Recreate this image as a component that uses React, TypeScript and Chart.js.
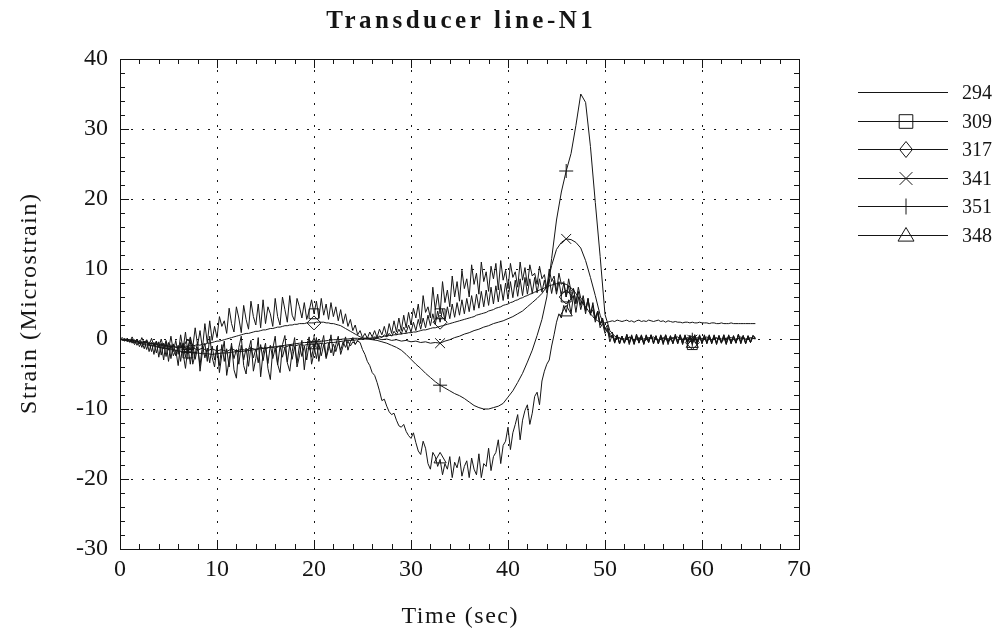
import React, { useEffect, useRef } from 'react';
import { Chart, registerables } from 'chart.js';

Chart.register(...registerables);

// ---- data ----
// noisy channels are sampled every 0.25 s, smooth ones every 0.5 s (0 – 65.5 s)
const TITLE = 'Transducer line-N1';
const X_TITLE = 'Time (sec)';
const Y_TITLE = 'Strain (Microstrain)';
const SERIES_LABELS = ['294', '309', '317', '341', '351', '348'];
const SERIES_STEPS = [0.25, 0.25, 0.25, 0.5, 0.5, 0.25];
const MARKER_TIMES = [7, 20, 33, 46, 59];
const X_TICKS = [0, 10, 20, 30, 40, 50, 60, 70];
const Y_TICKS = [-30, -20, -10, 0, 10, 20, 30, 40];

const S294 = [
  0, -0.1, -0.3, 0.1, -0.5, -0.2, -0.8, 0, -1.1, -0.4, -1.4, -0.2, -1.8, -0.5, -2.2, -0.3, -2.6, -0.6, -3.0, -0.4,
  -3.2, -0.8, -2.4, -1.6, -3.8, -0.5, -2.0, -4.2, -1.2, 0.2, -3.6, -2.2, -0.4, -4.6, -1.8, -0.6, -3.2, 0.4, -2.6, -4.0,
  -1.0, -4.8, -2.2, -0.3, -5.2, -3.0, -0.6, -4.4, -5.6, -1.2, 0.4, -3.8, -5.0, -1.6, -0.2, -4.6, -2.8, 0.2, -5.4, -2.0,
  -0.6, -4.2, -5.8, -1.4, 0.4, -3.6, -4.8, -0.8, 0.5, -3.4, -4.6, -1.8, 0.2, -4.0, -2.4, -0.2, -4.4, -1.2, 0.3, -3.6,
  -2.0, 0.2, -3.2, -1.0, 0.5, -2.8, -1.4, 0.6, -2.4, -0.8, 0.4, -2.2, -1.0, 0.3, -1.6, -0.4, 0.2, -0.8, -0.2, 0.1,
  0, 0.1, 0.2, 0.1, 0.2, 0.3, 0.2, 0.3, 0.3, 0.4, 0.4, 0.5, 0.5, 0.6, 0.6, 0.7, 0.7, 0.8, 0.8, 0.9,
  0.9, 1.0, 1.0, 1.1, 1.2, 1.3, 1.3, 1.4, 1.5, 1.6, 1.6, 1.7, 1.8, 1.9, 2.0, 2.1, 2.2, 2.3, 2.4, 2.5,
  2.6, 2.7, 2.8, 2.9, 3.0, 3.1, 3.2, 3.4, 3.5, 3.6, 3.7, 3.8, 4.0, 4.1, 4.2, 4.4, 4.5, 4.6, 4.8, 4.9,
  5.0, 5.2, 5.3, 5.5, 5.6, 5.8, 5.9, 6.1, 6.2, 6.4, 6.5, 6.7, 6.8, 7.0, 7.1, 7.3, 7.4, 7.6, 7.7, 7.8,
  7.9, 8.0, 8.0, 7.9, 7.8, 7.6, 7.3, 7.0, 6.5, 6.0, 5.5, 5.0, 4.6, 4.1, 3.6, 3.2, 2.8, 2.6, 2.4, 2.3,
  2.3, 2.4, 2.5, 2.6, 2.5, 2.7, 2.6, 2.5, 2.6, 2.7, 2.5, 2.6, 2.4, 2.6, 2.7, 2.5, 2.6, 2.5, 2.7, 2.6,
  2.5, 2.6, 2.7, 2.5, 2.6, 2.4, 2.6, 2.5, 2.4, 2.5, 2.4, 2.4, 2.3, 2.4, 2.4, 2.3, 2.4, 2.3, 2.3, 2.4,
  2.3, 2.3, 2.3, 2.2, 2.3, 2.3, 2.2, 2.2, 2.3, 2.2, 2.2, 2.2, 2.3, 2.2, 2.2, 2.2, 2.2, 2.2, 2.2, 2.2,
  2.2, 2.2, 2.2,
];

const S309 = [
  0, 0.2, -0.3, 0.1, -0.4, 0.3, -0.5, 0, -0.7, 0.2, -0.6, -0.1, -0.9, 0.1, -1.0, -0.3, -1.2, 0.0, -1.4, -0.2,
  -1.6, 0.4, -1.8, -0.2, -2.2, 0.6, -1.5, 1.0, -2.0, 0.3, -1.2, 1.6, -0.9, 1.2, -1.4, 2.2, -0.6, 2.6, -0.2, 1.8,
  0.2, 3.2, 1.8, 2.6, 0.8, 4.4, 2.2, 1.0, 4.6, 3.0, 0.9, 4.8, 2.8, 1.4, 5.4, 3.2, 2.0, 5.0, 1.6, 5.6,
  2.2, 4.6, 3.6, 1.8, 5.8, 3.2, 2.0, 6.0, 4.2, 2.4, 6.2, 3.4, 2.6, 5.8, 4.6, 3.0, 5.2, 2.8, 4.0, 5.6,
  3.6, 5.4, 3.0, 5.8, 3.4, 5.0, 2.8, 5.2, 3.2, 4.6, 2.6, 4.2, 2.2, 3.6, 1.8, 2.8, 1.2, 2.0, 0.6, 1.2,
  0.2, 0.8, 0.1, 1.0, 0.3, 1.2, 0.2, 1.4, 0.6, 1.8, 0.4, 2.2, 0.8, 2.6, 1.0, 3.0, 1.2, 3.4, 1.6, 3.8,
  2.0, 4.4, 3.0, 5.0, 2.2, 6.2, 3.8, 4.6, 3.0, 7.4, 4.2, 6.4, 3.6, 8.2, 5.2, 7.0, 4.6, 9.0, 6.0, 8.2,
  5.4, 9.8, 7.2, 8.6, 6.0, 10.6, 7.8, 9.4, 6.4, 11.0, 8.2, 9.6, 6.8, 10.4, 8.6, 10.8, 7.0, 11.2, 8.4, 9.8,
  7.2, 10.8, 8.8, 9.6, 7.4, 11.0, 8.4, 10.2, 7.6, 10.6, 9.0, 9.4, 7.8, 10.4, 8.6, 9.2, 7.2, 10.0, 8.2, 9.0,
  6.8, 9.4, 7.8, 8.2, 6.0, 8.6, 6.8, 7.2, 5.0, 7.4, 5.8, 5.6, 4.0, 5.8, 3.6, 4.2, 2.4, 3.8, 1.6, 2.2,
  0.8, 1.4, -0.4, 0.6, -0.6, 0.5, -0.7, 0.4, -0.5, 0.7, -0.6, 0.3, -0.8, 0.6, -0.5, 0.5, -0.7, 0.6, -0.4, 0.5,
  -0.6, 0.4, -0.7, 0.6, -0.5, 0.5, -0.8, 0.3, -0.6, 0.7, -0.5, 0.4, -0.7, 0.6, -0.6, 0.5, -0.8, 0.4, -0.5, 0.6,
  -0.7, 0.5, -0.6, 0.4, -0.5, 0.6, -0.7, 0.5, -0.6, 0.3, -0.8, 0.6, -0.5, 0.4, -0.6, 0.7, -0.5, 0.5, -0.7, 0.4,
  -0.5, 0.5, 0.2,
];

const S317 = [
  0, -0.1, -0.2, -0.1, -0.3, -0.2, -0.4, -0.3, -0.5, -0.4, -0.6, -0.5, -0.7, -0.6, -0.8, -0.7, -0.9, -0.8, -1.0, -0.9,
  -1.0, -1.1, -1.0, -1.2, -1.1, -1.0, -1.2, -1.0, -1.1, -0.9, -1.0, -0.9, -0.8, -0.9, -0.7, -0.8, -0.6, -0.6, -0.5, -0.4,
  -0.3, -0.3, -0.2, -0.1, 0, 0.1, 0.2, 0.3, 0.4, 0.5, 0.6, 0.7, 0.8, 0.8, 0.9, 1.0, 1.1, 1.1, 1.2, 1.3,
  1.3, 1.4, 1.5, 1.5, 1.6, 1.7, 1.7, 1.8, 1.9, 1.9, 2.0, 2.0, 2.1, 2.1, 2.2, 2.2, 2.2, 2.3, 2.3, 2.3,
  2.3, 2.4, 2.4, 2.4, 2.4, 2.3, 2.3, 2.2, 2.2, 2.1, 2.0, 1.9, 1.7, 1.5, 1.3, 1.1, 0.9, 0.7, 0.5, 0.3,
  0.2, 0.1, 0, 0.1, 0, 0.2, 0.1, 0.4, 0.2, 0.6, 0.3, 0.8, 0.4, 1.1, 0.6, 1.4, 0.7, 1.7, 0.9, 2.0,
  1.0, 2.4, 1.2, 2.8, 1.4, 3.0, 1.6, 3.4, 1.9, 3.6, 2.1, 4.0, 2.4, 4.3, 2.6, 4.6, 2.9, 5.0, 3.1, 5.2,
  3.4, 5.6, 3.6, 5.8, 3.9, 6.2, 4.1, 6.4, 4.4, 6.8, 4.6, 7.0, 4.8, 7.4, 5.0, 7.6, 5.3, 7.8, 5.5, 8.0,
  5.7, 8.2, 5.9, 8.4, 6.1, 8.6, 6.2, 8.8, 6.4, 8.6, 6.5, 8.8, 6.6, 8.6, 6.7, 8.4, 6.6, 8.6, 6.5, 8.4,
  6.4, 8.2, 6.2, 8.0, 6.0, 7.6, 5.6, 7.2, 5.2, 6.8, 4.8, 6.2, 4.2, 5.6, 3.6, 4.8, 3.0, 4.0, 2.2, 3.0,
  1.4, 2.0, 0.6, 1.0, -0.3, 0.6, -0.5, 0.4, -0.6, 0.5, -0.4, 0.6, -0.7, 0.4, -0.5, 0.6, -0.6, 0.3, -0.5, 0.6,
  -0.5, 0.5, -0.7, 0.4, -0.6, 0.6, -0.4, 0.5, -0.6, 0.4, -0.7, 0.6, -0.5, 0.5, -0.6, 0.4, -0.5, 0.6, -0.7, 0.5,
  -0.6, 0.4, -0.5, 0.6, -0.7, 0.5, -0.5, 0.4, -0.6, 0.6, -0.5, 0.5, -0.7, 0.4, -0.6, 0.6, -0.5, 0.5, -0.6, 0.4,
  -0.5, 0.5, 0.1,
];

const S341 = [
  0, -0.1, -0.3, -0.2, -0.5, -0.4, -0.7, -0.6, -0.9, -0.8,
  -1.1, -1.0, -1.3, -1.1, -1.5, -1.2, -1.6, -1.3, -1.7, -1.4,
  -1.7, -1.5, -1.8, -1.4, -1.7, -1.5, -1.6, -1.3, -1.5, -1.2,
  -1.4, -1.1, -1.3, -1.0, -1.2, -0.9, -1.0, -0.8, -0.9, -0.7,
  -0.8, -0.6, -0.7, -0.5, -0.5, -0.4, -0.3, -0.2, -0.2, -0.1,
  0, 0.1, 0, 0.1, -0.1, 0, -0.2, -0.1, -0.3, -0.2,
  -0.4, -0.3, -0.5, -0.4, -0.6, -0.5, -0.6, -0.3, -0.1, 0.2,
  0.4, 0.7, 0.9, 1.2, 1.4, 1.7, 1.9, 2.2, 2.4, 2.6,
  2.9, 3.2, 3.6, 4.0, 4.6, 5.2, 5.8, 6.5, 7.5, 10.5,
  12.8, 13.8, 14.3, 14.2, 13.8, 13.0, 11.2, 8.8, 6.2, 3.4,
  1.6, 0.5, 0, 0.2, -0.3, 0.3, -0.2, 0.2, -0.3, 0.1,
  0.3, -0.2, 0.2, -0.3, 0.1, 0.3, -0.2, 0.2, -0.1, 0.2,
  -0.2, 0.3, -0.1, 0.2, -0.3, 0.1, 0.2, -0.2, 0.3, -0.1,
  0.2, 0,
];

const S351 = [
  0, -0.2, -0.3, -0.5, -0.6, -0.8, -0.9, -1.0, -1.2, -1.3,
  -1.4, -1.5, -1.7, -1.8, -1.9, -2.0, -2.0, -2.1, -2.1, -2.2,
  -2.1, -2.0, -2.0, -1.9, -1.8, -1.8, -1.7, -1.6, -1.5, -1.4,
  -1.3, -1.2, -1.1, -1.0, -0.9, -0.8, -0.7, -0.6, -0.5, -0.5,
  -0.4, -0.3, -0.3, -0.2, -0.1, -0.1, 0, 0, 0.1, 0.1,
  0, 0, -0.1, -0.2, -0.4, -0.6, -0.9, -1.2, -1.6, -2.2,
  -2.9, -3.6, -4.2, -4.9, -5.5, -6.1, -6.6, -7.0, -7.4, -7.8,
  -8.1, -8.5, -9.0, -9.5, -9.8, -10.0, -10.0, -9.8, -9.6, -9.2,
  -8.3, -7.4, -6.2, -4.9, -3.3, -1.6, 0.5, 2.8, 6.0, 11.5,
  17.0, 21.0, 24.0, 26.5, 30.5, 35.0, 33.8, 27.5, 19.5, 11.8,
  3.5, 1.2, 0.4, 0.1, 0, 0.2, -0.1, 0.1, 0, 0.2,
  0, -0.1, 0.1, 0, 0.2, -0.1, 0, 0.1, -0.1, 0,
  0.1, 0, -0.1, 0.1, 0, 0.1, -0.1, 0, 0.1, 0,
  0, 0.1,
];

const S348 = [
  0, -0.2, 0.1, -0.4, 0, -0.6, -0.1, -0.9, -0.2, -1.2, -0.3, -1.5, -0.4, -1.8, -0.5, -2.0, -0.4, -2.3, -0.6, -2.5,
  -0.5, -2.8, -0.7, -2.4, -0.9, -3.2, -0.6, -2.6, -1.0, -3.6, -0.8, -2.9, -1.2, -3.8, -0.9, -2.7, -1.3, -3.4, -1.0, -3.0,
  -1.2, -3.8, -0.8, -3.2, -1.4, -4.0, -1.0, -2.8, -1.5, -3.6, -0.9, -3.0, -1.3, -3.9, -1.1, -2.7, -1.4, -3.4, -0.8, -3.1,
  -1.2, -3.5, -0.9, -2.8, -1.3, -3.7, -1.0, -2.6, -1.2, -3.3, -0.8, -2.9, -1.1, -3.4, -0.9, -2.5, -1.0, -3.0, -0.7, -2.6,
  -0.9, -2.8, -0.7, -2.4, -0.8, -2.6, -0.6, -2.0, -0.7, -1.8, -0.5, -1.6, -0.4, -1.2, -0.3, -1.0, -0.4, -0.7, -0.3, -0.5,
  -1.5, -2.2, -3.2, -3.8, -4.8, -5.2, -6.2, -7.4, -8.8, -8.6, -9.6, -10.4, -10.8, -10.6, -11.6, -12.4, -12.6, -12.2, -13.2, -13.8,
  -14.2, -13.4, -14.8, -16.0, -16.5, -14.6, -15.6, -17.8, -18.6, -16.2, -16.8, -18.2, -17.2, -19.4, -17.8, -18.6, -16.8, -19.8, -17.6, -18.4,
  -16.8, -19.6, -18.2, -17.4, -19.8, -17.0, -18.6, -19.4, -16.4, -19.8, -17.8, -18.2, -15.6, -18.8, -16.8, -16.2, -14.4, -17.8, -15.2, -14.6,
  -12.6, -15.8, -13.4, -12.2, -10.8, -14.4, -11.6, -10.2, -9.4, -12.2, -10.6, -8.2, -7.6, -9.4, -6.0, -4.6, -3.6, -3.0, -1.0, 0.6,
  2.4, 3.6, 3.0, 4.8, 3.8, 5.6, 3.6, 6.2, 3.8, 6.0, 4.2, 5.6, 3.6, 5.8, 3.4, 5.2, 2.8, 4.0, 2.0, 2.8,
  1.2, 1.6, 0.2, 0.6, -0.5, 0.5, -0.7, 0.4, -0.6, 0.6, -0.8, 0.4, -0.5, 0.7, -0.6, 0.4, -0.8, 0.5, -0.5, 0.6,
  -0.7, 0.4, -0.6, 0.5, -0.8, 0.6, -0.5, 0.4, -0.7, 0.5, -0.6, 0.6, -0.8, 0.4, -0.5, 0.5, -0.7, 0.6, -0.6, 0.4,
  -0.5, 0.6, -0.7, 0.5, -0.6, 0.4, -0.8, 0.5, -0.5, 0.6, -0.7, 0.4, -0.6, 0.5, -0.5, 0.6, -0.7, 0.4, -0.6, 0.5,
  -0.5, 0.4, 0,
];

const SERIES_VALUES = [S294, S309, S317, S341, S351, S348];
const SERIES_MARKERS: (string | null)[] = [null, 'rect', 'rectRot', 'crossRot', 'cross', 'triangle'];

// ---- styling / layout constants ----
const INK = '#151515';
const FONT_FAMILY = '"Liberation Serif", "Times New Roman", serif';
const CHART_LEFT = 120;
const CHART_RIGHT = 799;
const CHART_TOP = 59;
const CHART_BOTTOM = 549;
const W = 1006;
const H = 639;
const MINOR_STEP = 2;
const MARKER_R = 7;

function drawMarker(ctx: CanvasRenderingContext2D, style: string | null, x: number, y: number, r: number) {
  if (!style) return;
  ctx.beginPath();
  if (style === 'rect') {
    const s = r * 0.85;
    ctx.rect(x - s, y - s, 2 * s, 2 * s);
  } else if (style === 'rectRot') {
    ctx.moveTo(x, y - r);
    ctx.lineTo(x + r * 0.8, y);
    ctx.lineTo(x, y + r);
    ctx.lineTo(x - r * 0.8, y);
    ctx.closePath();
  } else if (style === 'crossRot') {
    const s = r * 0.8;
    ctx.moveTo(x - s, y - s);
    ctx.lineTo(x + s, y + s);
    ctx.moveTo(x + s, y - s);
    ctx.lineTo(x - s, y + s);
  } else if (style === 'cross') {
    ctx.moveTo(x, y - r);
    ctx.lineTo(x, y + r);
  } else if (style === 'triangle') {
    ctx.moveTo(x, y - r);
    ctx.lineTo(x + r, y + r * 0.7);
    ctx.lineTo(x - r, y + r * 0.7);
    ctx.closePath();
  }
  ctx.stroke();
}

const framePlugin = {
  id: 'frameGrid',
  beforeDatasetsDraw(chart: any) {
    const { ctx, chartArea, scales } = chart;
    const { left, right, top, bottom } = chartArea;
    const xs = scales.x;
    const ys = scales.y;
    ctx.save();
    ctx.strokeStyle = INK;
    ctx.lineWidth = 1;
    ctx.setLineDash([2, 9]);
    xs.ticks.forEach((t: any) => {
      if (t.value <= xs.min || t.value >= xs.max) return;
      const px = Math.round(xs.getPixelForValue(t.value)) + 0.5;
      ctx.beginPath();
      ctx.moveTo(px, top);
      ctx.lineTo(px, bottom);
      ctx.stroke();
    });
    ys.ticks.forEach((t: any) => {
      if (t.value <= ys.min || t.value >= ys.max) return;
      const py = Math.round(ys.getPixelForValue(t.value)) + 0.5;
      ctx.beginPath();
      ctx.moveTo(left, py);
      ctx.lineTo(right, py);
      ctx.stroke();
    });
    ctx.setLineDash([]);
    ctx.strokeRect(Math.round(left) + 0.5, Math.round(top) + 0.5, Math.round(right - left), Math.round(bottom - top));
    ctx.beginPath();
    for (let v = xs.min; v <= xs.max + 1e-9; v += MINOR_STEP) {
      const major = Math.abs(v % 10) < 1e-9;
      const len = major ? 9 : 5;
      const px = Math.round(xs.getPixelForValue(v)) + 0.5;
      ctx.moveTo(px, bottom);
      ctx.lineTo(px, bottom - len);
      ctx.moveTo(px, top);
      ctx.lineTo(px, top + len);
    }
    for (let v = ys.min; v <= ys.max + 1e-9; v += MINOR_STEP) {
      const major = Math.abs(v % 10) < 1e-9;
      const len = major ? 9 : 5;
      const py = Math.round(ys.getPixelForValue(v)) + 0.5;
      ctx.moveTo(left, py);
      ctx.lineTo(left + len, py);
      ctx.moveTo(right, py);
      ctx.lineTo(right - len, py);
    }
    ctx.stroke();
    ctx.restore();
  },
};

function spacedText(ctx: any, text: string, x: number, y: number, spacing: number) {
  ctx.letterSpacing = `${spacing}px`;
  const w = ctx.measureText(text).width;
  ctx.textAlign = 'left';
  ctx.fillText(text, x - w / 2 + spacing / 2, y);
  ctx.letterSpacing = '0px';
}

const titlesPlugin = {
  id: 'titles',
  afterDraw(chart: any) {
    const { ctx, chartArea } = chart;
    const cx = (chartArea.left + chartArea.right) / 2;
    const cy = (chartArea.top + chartArea.bottom) / 2;
    ctx.save();
    ctx.fillStyle = INK;
    ctx.textBaseline = 'middle';
    ctx.font = `bold 25px ${FONT_FAMILY}`;
    spacedText(ctx, TITLE, cx, 22, 3.5);
    ctx.font = `24px ${FONT_FAMILY}`;
    spacedText(ctx, X_TITLE, cx, 617, 1.5);
    ctx.translate(30, cy);
    ctx.rotate(-Math.PI / 2);
    spacedText(ctx, Y_TITLE, 0, 0, 1.5);
    ctx.restore();
  },
};

const LEGEND_X1 = 858;
const LEGEND_X2 = 948;
const LEGEND_MARK_X = 906;
const LEGEND_TEXT_X = 962;
const LEGEND_TOP = 92;
const LEGEND_GAP = 28.5;

const legendPlugin = {
  id: 'sideLegend',
  afterDraw(chart: any) {
    const ctx: CanvasRenderingContext2D = chart.ctx;
    ctx.save();
    ctx.strokeStyle = INK;
    ctx.fillStyle = INK;
    ctx.lineWidth = 1;
    ctx.font = `20px ${FONT_FAMILY}`;
    ctx.textBaseline = 'middle';
    ctx.textAlign = 'left';
    chart.data.datasets.forEach((ds: any, i: number) => {
      const y = Math.round(LEGEND_TOP + i * LEGEND_GAP) + 0.5;
      ctx.beginPath();
      ctx.moveTo(LEGEND_X1, y);
      ctx.lineTo(LEGEND_X2, y);
      ctx.stroke();
      drawMarker(ctx, SERIES_MARKERS[i], LEGEND_MARK_X, y, 8);
      ctx.fillText(ds.label, LEGEND_TEXT_X, y + 1);
    });
    ctx.restore();
  },
};

export default function App() {
  const canvasRef = useRef<HTMLCanvasElement | null>(null);

  useEffect(() => {
    const canvas = canvasRef.current;
    if (!canvas) return;
    Chart.defaults.font.family = FONT_FAMILY;
    Chart.defaults.color = INK;

    const datasets = SERIES_LABELS.map((label, i) => {
      const vals = SERIES_VALUES[i];
      const step = SERIES_STEPS[i];
      const style = SERIES_MARKERS[i];
      return {
        label,
        data: vals.map((v, k) => ({ x: k * step, y: v })),
        borderColor: INK,
        borderWidth: 1,
        tension: 0,
        fill: false,
        pointStyle: style || 'circle',
        pointRadius: (c: any) => (style && c.raw && MARKER_TIMES.includes(c.raw.x) ? MARKER_R : 0),
        pointHoverRadius: 0,
        pointBackgroundColor: 'rgba(0,0,0,0)',
        pointBorderColor: INK,
        pointBorderWidth: 1,
      };
    });

    const chart = new Chart(canvas, {
      type: 'line',
      data: { datasets },
      options: {
        animation: false,
        responsive: false,
        maintainAspectRatio: false,
        events: [],
        layout: { padding: { left: 0, right: W - CHART_RIGHT, top: CHART_TOP, bottom: 0 } },
        plugins: {
          legend: { display: false },
          tooltip: { enabled: false },
          title: { display: false },
        },
        scales: {
          x: {
            type: 'linear',
            min: 0,
            max: 70,
            afterBuildTicks: (s: any) => { s.ticks = X_TICKS.map((v) => ({ value: v })); },
            afterFit: (s: any) => { s.height = H - CHART_BOTTOM; },
            ticks: { padding: 6, font: { size: 24 }, color: INK, maxRotation: 0, autoSkip: false },
            grid: { display: false, drawTicks: false },
            border: { display: false },
            title: { display: false },
          },
          y: {
            type: 'linear',
            min: -30,
            max: 40,
            afterBuildTicks: (s: any) => { s.ticks = Y_TICKS.map((v) => ({ value: v })); },
            afterFit: (s: any) => { s.width = CHART_LEFT; },
            ticks: { padding: 12, font: { size: 24 }, color: INK, autoSkip: false },
            grid: { display: false, drawTicks: false },
            border: { display: false },
            title: { display: false },
          },
        },
      },
      plugins: [framePlugin, titlesPlugin, legendPlugin],
    } as any);

    return () => chart.destroy();
  }, []);

  return (
    <div style={{ position: 'absolute', left: 0, top: 0, width: W, height: H, background: '#fff' }}>
      <canvas ref={canvasRef} width={W} height={H} style={{ display: 'block', width: W, height: H }} />
    </div>
  );
}
